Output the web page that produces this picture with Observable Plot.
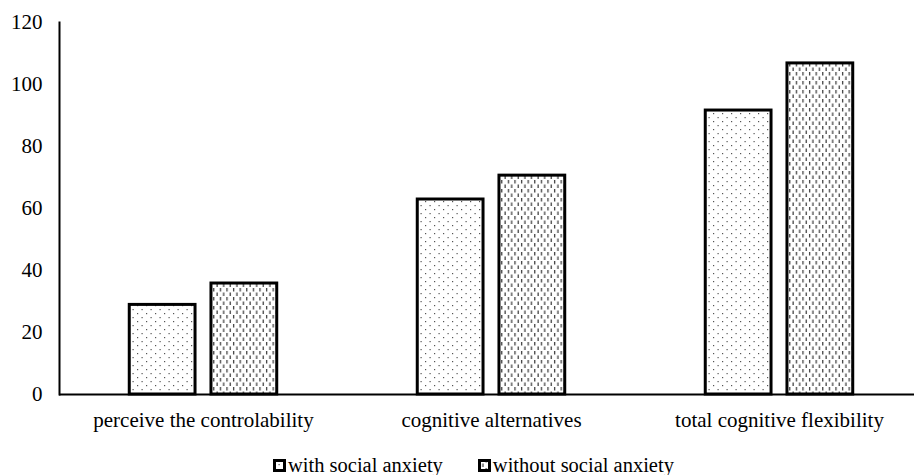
<!DOCTYPE html>
<html><head><meta charset="utf-8">
<script src="https://cdn.jsdelivr.net/npm/d3@7"></script>
<script src="https://cdn.jsdelivr.net/npm/@observablehq/plot@0.6"></script>
<style>
body{margin:0;background:#fff;font-family:'Liberation Serif','Times New Roman',Times,serif;}
#legend{display:flex;gap:35px;padding-left:273px;margin-top:13px;font-size:20.5px;color:#000;align-items:center;line-height:24px}
.item{display:flex;align-items:center}
.item svg{margin-right:2px}
#chart svg text{font-family:'Liberation Serif','Times New Roman',Times,serif;}
</style></head><body><div id="chart"></div><div id="legend"></div>
<script>
const categories = ["perceive the controlability", "cognitive alternatives", "total cognitive flexibility"];
const seriesNames = ["with social anxiety", "without social anxiety"];
const withValues = [28.9, 62.9, 91.6];
const withoutValues = [35.8, 70.6, 106.8];
const yTicks = [0, 20, 40, 60, 80, 100, 120];
const patternIds = ["pat-dots", "pat-dashes"];

const data = categories.flatMap((c, i) => [
  {category: c, series: seriesNames[0], value: withValues[i]},
  {category: c, series: seriesNames[1], value: withoutValues[i]}
]);

const svg = Plot.plot({
  width: 914, height: 440,
  marginLeft: 58, marginRight: -10, marginTop: 22, marginBottom: 46,
  style: {fontFamily: "Liberation Serif, Times New Roman, serif", fontSize: "21px", background: "white", color: "black", overflow: "hidden"},
  fx: {domain: categories, padding: 0, label: null},
  x: {domain: seriesNames, paddingInner: 0.195, paddingOuter: 0.86, axis: null, round: false},
  y: {domain: [0, 120], label: null},
  marks: [
    Plot.axisY({ticks: yTicks, tickSize: 0, tickPadding: 17, label: null}),
    Plot.axisFx({anchor: "bottom", tickSize: 0, tickPadding: 18, label: null}),
    Plot.barY(data, {
      fx: "category", x: "series", y: "value",
      fill: d => `url(#${patternIds[seriesNames.indexOf(d.series)]})`,
      stroke: "black", strokeWidth: 3
    }),
    Plot.ruleY([0], {stroke: "black", strokeWidth: 2}),
    Plot.frame({anchor: "left", facet: "super", stroke: "black", strokeWidth: 2})
  ]
});

const defs = d3.select(svg).insert("defs", ":first-child");
const p1 = defs.append("pattern").attr("id", "pat-dots").attr("patternUnits", "userSpaceOnUse")
  .attr("width", 9).attr("height", 8);
p1.append("rect").attr("width", 9).attr("height", 8).attr("fill", "white");
p1.append("rect").attr("x", 1).attr("y", 1).attr("width", 1.2).attr("height", 1.2).attr("fill", "#555");
p1.append("rect").attr("x", 5.5).attr("y", 5).attr("width", 1.2).attr("height", 1.2).attr("fill", "#555");
const p2 = defs.append("pattern").attr("id", "pat-dashes").attr("patternUnits", "userSpaceOnUse")
  .attr("width", 6.6).attr("height", 9);
p2.append("rect").attr("width", 6.6).attr("height", 9).attr("fill", "white");
p2.append("rect").attr("x", 1).attr("y", 0).attr("width", 1.2).attr("height", 3.5).attr("fill", "#333");
p2.append("rect").attr("x", 4.3).attr("y", 4.5).attr("width", 1.2).attr("height", 3.5).attr("fill", "#333");

document.getElementById("chart").appendChild(svg);

const legend = document.getElementById("legend");
seriesNames.forEach((name, i) => {
  const item = document.createElement("div");
  item.className = "item";
  item.innerHTML = `<svg width="13" height="13"><rect x="1.5" y="1.5" width="10" height="10" fill="url(#${patternIds[i]})" stroke="black" stroke-width="3"></rect></svg><span>${name}</span>`;
  legend.appendChild(item);
});
</script>
</body></html>
